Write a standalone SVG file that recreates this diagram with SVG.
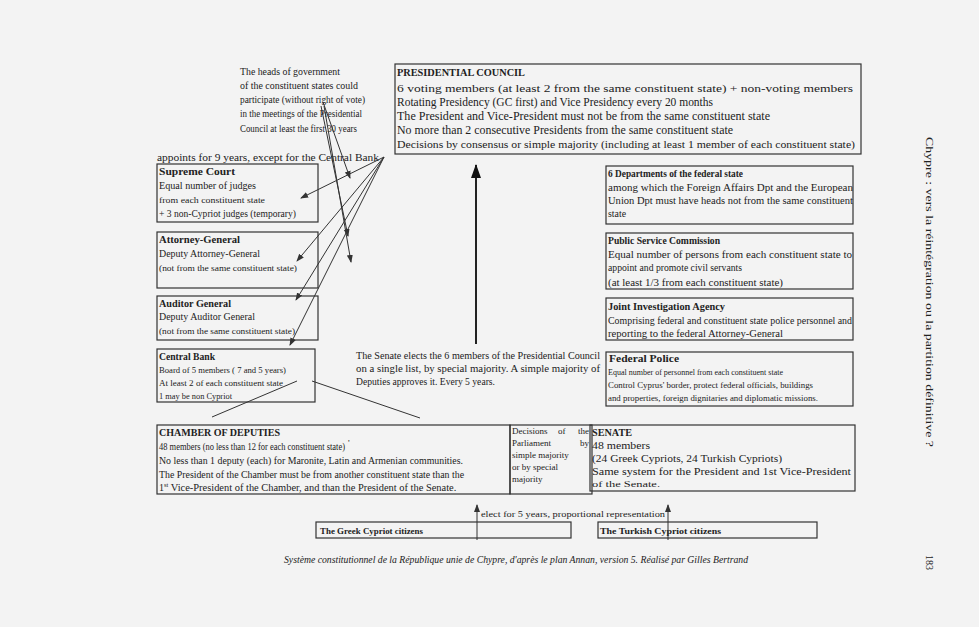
<svg xmlns="http://www.w3.org/2000/svg" width="979" height="627" viewBox="0 0 979 627">
<style>
text{font-family:"Liberation Serif","Times New Roman",serif;font-size:10px;fill:#222}
.b{font-weight:bold}
.s{font-size:9px}
.pc{font-size:11.5px}
.r{font-size:11px}
.box{fill:none;stroke:#333;stroke-width:1.2}
.ln{stroke:#333;stroke-width:1;fill:none}
.thick{stroke:#222;stroke-width:2;fill:none}
</style>
<defs>
<marker id="ah" markerWidth="8" markerHeight="8" refX="7" refY="4" orient="auto" markerUnits="userSpaceOnUse">
<path d="M0,1 L8,4 L0,7 Z" fill="#333"/>
</marker>
<marker id="ahb" markerWidth="14" markerHeight="10" refX="13" refY="5" orient="auto" markerUnits="userSpaceOnUse">
<path d="M0,0 L14,5 L0,10 Z" fill="#111"/>
</marker>
</defs>
<rect x="0" y="0" width="979" height="627" fill="#f3f3f3"/>

<g id="heads">
<text x="240" y="75" textLength="100" lengthAdjust="spacingAndGlyphs">The heads of government</text>
<text x="240" y="89" textLength="118" lengthAdjust="spacingAndGlyphs">of the constituent states could</text>
<text x="240" y="103" textLength="125" lengthAdjust="spacingAndGlyphs">participate (without right of vote)</text>
<text x="240" y="117" textLength="122" lengthAdjust="spacingAndGlyphs">in the meetings of the Presidential</text>
<text x="240" y="132" textLength="117" lengthAdjust="spacingAndGlyphs">Council at least the first 30 years</text>
</g>

<g id="presidential-council">
<rect class="box" x="395" y="64" width="466" height="90"/>
<text class="b" x="397" y="76" textLength="128" lengthAdjust="spacingAndGlyphs">PRESIDENTIAL COUNCIL</text>
<text class="r" x="397" y="92" textLength="456" lengthAdjust="spacingAndGlyphs">6 voting members (at least 2 from the same constituent state) + non-voting members</text>
<text class="pc" x="397" y="106" textLength="316" lengthAdjust="spacingAndGlyphs">Rotating Presidency (GC first) and Vice Presidency every 20 months</text>
<text class="pc" x="397" y="120" textLength="373" lengthAdjust="spacingAndGlyphs">The President and Vice-President must not be from the same constituent state</text>
<text class="pc" x="397" y="134" textLength="336" lengthAdjust="spacingAndGlyphs">No more than 2 consecutive Presidents from the same constituent state</text>
<text class="r" x="397" y="148" textLength="458" lengthAdjust="spacingAndGlyphs">Decisions by consensus or simple majority (including at least 1 member of each constituent state)</text>
</g>

<g id="appoints">
<text class="r" x="157" y="161" textLength="222" lengthAdjust="spacingAndGlyphs">appoints for 9 years, except for the Central Bank</text>
</g>

<g id="supreme-court">
<rect class="box" x="157" y="164" width="161" height="58"/>
<text class="b r" x="159" y="175" textLength="76" lengthAdjust="spacingAndGlyphs">Supreme Court</text>
<text x="159" y="189" textLength="97" lengthAdjust="spacingAndGlyphs">Equal number of judges</text>
<text class="s" x="159" y="203" textLength="106" lengthAdjust="spacingAndGlyphs">from each constituent state</text>
<text x="159" y="217" textLength="137" lengthAdjust="spacingAndGlyphs">+ 3 non-Cypriot judges (temporary)</text>
</g>

<g id="attorney-general">
<rect class="box" x="157" y="232" width="161" height="56"/>
<text class="b r" x="159" y="243" textLength="81" lengthAdjust="spacingAndGlyphs">Attorney-General</text>
<text x="159" y="257" textLength="101" lengthAdjust="spacingAndGlyphs">Deputy Attorney-General</text>
<text class="s" x="159" y="271" textLength="138" lengthAdjust="spacingAndGlyphs">(not from the same constituent state)</text>
</g>

<g id="auditor-general">
<rect class="box" x="157" y="296" width="161" height="44"/>
<text class="b r" x="159" y="307" textLength="72" lengthAdjust="spacingAndGlyphs">Auditor General</text>
<text x="159" y="320" textLength="96" lengthAdjust="spacingAndGlyphs">Deputy Auditor General</text>
<text class="s" x="159" y="334" textLength="136" lengthAdjust="spacingAndGlyphs">(not from the same constituent state)</text>
</g>

<g id="central-bank">
<rect class="box" x="157" y="349" width="158" height="53"/>
<text class="b" x="159" y="360" textLength="56" lengthAdjust="spacingAndGlyphs">Central Bank</text>
<text class="s" x="159" y="373" textLength="127" lengthAdjust="spacingAndGlyphs">Board of 5 members ( 7 and 5 years)</text>
<text class="s" x="159" y="386" textLength="124" lengthAdjust="spacingAndGlyphs">At least 2 of each constituent state</text>
<text class="s" x="159" y="399" textLength="73" lengthAdjust="spacingAndGlyphs">1 may be non Cypriot</text>
</g>

<g id="senate-elects">
<text x="356" y="359" font-size="9.5" textLength="244" lengthAdjust="spacingAndGlyphs">The Senate elects the 6 members of the Presidential Council</text>
<text x="356" y="372" font-size="9.5" textLength="244" lengthAdjust="spacingAndGlyphs">on a single list, by special majority. A simple majority of</text>
<text x="356" y="385" font-size="9.5" textLength="139" lengthAdjust="spacingAndGlyphs">Deputies approves it. Every 5 years.</text>
</g>

<g id="departments">
<rect class="box" x="606" y="166" width="247" height="58"/>
<text class="b" x="608" y="177" textLength="135" lengthAdjust="spacingAndGlyphs">6 Departments of the federal state</text>
<text class="r" x="608" y="191" textLength="245" lengthAdjust="spacingAndGlyphs">among which the Foreign Affairs Dpt and the European</text>
<text class="r" x="608" y="204" textLength="245" lengthAdjust="spacingAndGlyphs">Union Dpt must have heads not from the same constituent</text>
<text x="608" y="217" textLength="18" lengthAdjust="spacingAndGlyphs">state</text>
</g>

<g id="public-service">
<rect class="box" x="606" y="233" width="247" height="56"/>
<text class="b" x="608" y="244" textLength="112" lengthAdjust="spacingAndGlyphs">Public Service Commission</text>
<text class="r" x="608" y="258" textLength="244" lengthAdjust="spacingAndGlyphs">Equal number of persons from each constituent state to</text>
<text x="608" y="271" textLength="134" lengthAdjust="spacingAndGlyphs">appoint and promote civil servants</text>
<text class="r" x="608" y="286" textLength="175" lengthAdjust="spacingAndGlyphs"> (at least 1/3 from each constituent state)</text>
</g>

<g id="joint-investigation">
<rect class="box" x="606" y="298" width="247" height="42"/>
<text class="b" x="608" y="310" textLength="117" lengthAdjust="spacingAndGlyphs">Joint Investigation Agency</text>
<text x="608" y="324" textLength="244" lengthAdjust="spacingAndGlyphs">Comprising federal and constituent state police personnel and</text>
<text x="608" y="337" textLength="175" lengthAdjust="spacingAndGlyphs">reporting to the federal Attorney-General</text>
</g>

<g id="federal-police">
<rect class="box" x="606" y="352" width="247" height="54"/>
<text class="b" x="609" y="362" textLength="70" lengthAdjust="spacingAndGlyphs">Federal Police</text>
<text class="s" x="608" y="375" textLength="175" lengthAdjust="spacingAndGlyphs">Equal number of personnel from each constituent state</text>
<text class="s" x="608" y="388" textLength="205" lengthAdjust="spacingAndGlyphs">Control Cyprus' border, protect federal officials, buildings</text>
<text class="s" x="608" y="401" textLength="210" lengthAdjust="spacingAndGlyphs">and properties, foreign dignitaries and diplomatic missions.</text>
</g>

<g id="chamber-of-deputies">
<rect class="box" x="157" y="425" width="353" height="69"/>
<text class="b" x="159" y="436" textLength="121" lengthAdjust="spacingAndGlyphs">CHAMBER OF DEPUTIES</text>
<text x="159" y="450" textLength="186" lengthAdjust="spacingAndGlyphs">48 members (no less than 12 for each constituent state)</text>
<text class="s" x="348" y="446">'</text>
<text x="159" y="464" textLength="304" lengthAdjust="spacingAndGlyphs">No less than 1 deputy (each) for Maronite, Latin and Armenian communities.</text>
<text x="159" y="478" textLength="305" lengthAdjust="spacingAndGlyphs">The President of the Chamber must be from another constituent state than the</text>
<text x="159" y="491">1<tspan font-size="6.5" dy="-4">st</tspan><tspan dy="4" textLength="288" lengthAdjust="spacingAndGlyphs"> Vice-President of the Chamber, and than the President of the Senate.</tspan></text>
</g>

<g id="decisions">
<rect class="box" x="510" y="425" width="82" height="69"/>
<text class="s" y="434"><tspan x="512">Decisions</tspan><tspan x="558">of</tspan><tspan x="578">the</tspan></text>
<text class="s" y="446"><tspan x="512">Parliament</tspan><tspan x="580">by</tspan></text>
<text class="s" x="512" y="458">simple majority</text>
<text class="s" x="512" y="470">or by special</text>
<text class="s" x="512" y="482">majority</text>
</g>

<g id="senate">
<rect class="box" x="590" y="425" width="265" height="66"/>
<text class="b" x="592" y="436" textLength="40" lengthAdjust="spacingAndGlyphs">SENATE</text>
<text class="r" x="592" y="449" textLength="58" lengthAdjust="spacingAndGlyphs">48 members</text>
<text class="r" x="592" y="462" textLength="190" lengthAdjust="spacingAndGlyphs">(24 Greek Cypriots, 24 Turkish Cypriots)</text>
<text class="r" x="592" y="475" textLength="259" lengthAdjust="spacingAndGlyphs">Same system for the President and 1st Vice-President</text>
<text class="s" x="592" y="487" textLength="68" lengthAdjust="spacingAndGlyphs">of the Senate.</text>
</g>

<g id="elect-label">
<text class="s" x="481" y="517" textLength="184" lengthAdjust="spacingAndGlyphs">elect for 5 years, proportional representation</text>
</g>

<g id="greek-citizens">
<rect class="box" x="316" y="522" width="255" height="16"/>
<text class="b s" x="320" y="534" textLength="103" lengthAdjust="spacingAndGlyphs">The Greek Cypriot citizens</text>
</g>

<g id="turkish-citizens">
<rect class="box" x="598" y="522" width="219" height="16"/>
<text class="b s" x="600" y="534" textLength="121" lengthAdjust="spacingAndGlyphs">The Turkish Cypriot citizens</text>
</g>

<g id="connectors">
<line class="thick" x1="476" y1="344" x2="476" y2="165" marker-end="url(#ahb)"/>
<line class="ln" x1="297" y1="381" x2="212" y2="417" stroke-width="1.8"/>
<line class="ln" x1="312" y1="381" x2="420" y2="418" stroke-width="1.8"/>
<line class="ln" x1="384" y1="157" x2="301" y2="198" marker-end="url(#ah)"/>
<line class="ln" x1="384" y1="157" x2="297" y2="261" marker-end="url(#ah)"/>
<line class="ln" x1="384" y1="157" x2="296" y2="300" marker-end="url(#ah)"/>
<line class="ln" x1="384" y1="157" x2="290" y2="345" marker-end="url(#ah)"/>
<line class="ln" x1="323" y1="102" x2="350" y2="178" marker-end="url(#ah)"/>
<line class="ln" x1="321" y1="106" x2="348" y2="236" marker-end="url(#ah)"/>
<line class="ln" x1="324" y1="106" x2="351" y2="262" marker-end="url(#ah)"/>
<line class="ln" x1="477" y1="540" x2="477" y2="505" stroke-width="1.3" marker-end="url(#ah)"/>
<line class="ln" x1="668" y1="540" x2="668" y2="505" stroke-width="1.3" marker-end="url(#ah)"/>
</g>

<g id="caption">
<text x="284" y="563" font-style="italic" font-size="10" textLength="464" lengthAdjust="spacingAndGlyphs">Système constitutionnel de la République unie de Chypre, d'après le plan Annan, version 5. Réalisé par Gilles Bertrand</text>
</g>

<g id="running-head">
<text transform="translate(926,137) rotate(90)" font-size="10.5" textLength="310" lengthAdjust="spacingAndGlyphs">Chypre : vers la réintégration ou la partition définitive ?</text>
<text transform="translate(926,555) rotate(90)" font-size="10.5">183</text>
</g>
</svg>
